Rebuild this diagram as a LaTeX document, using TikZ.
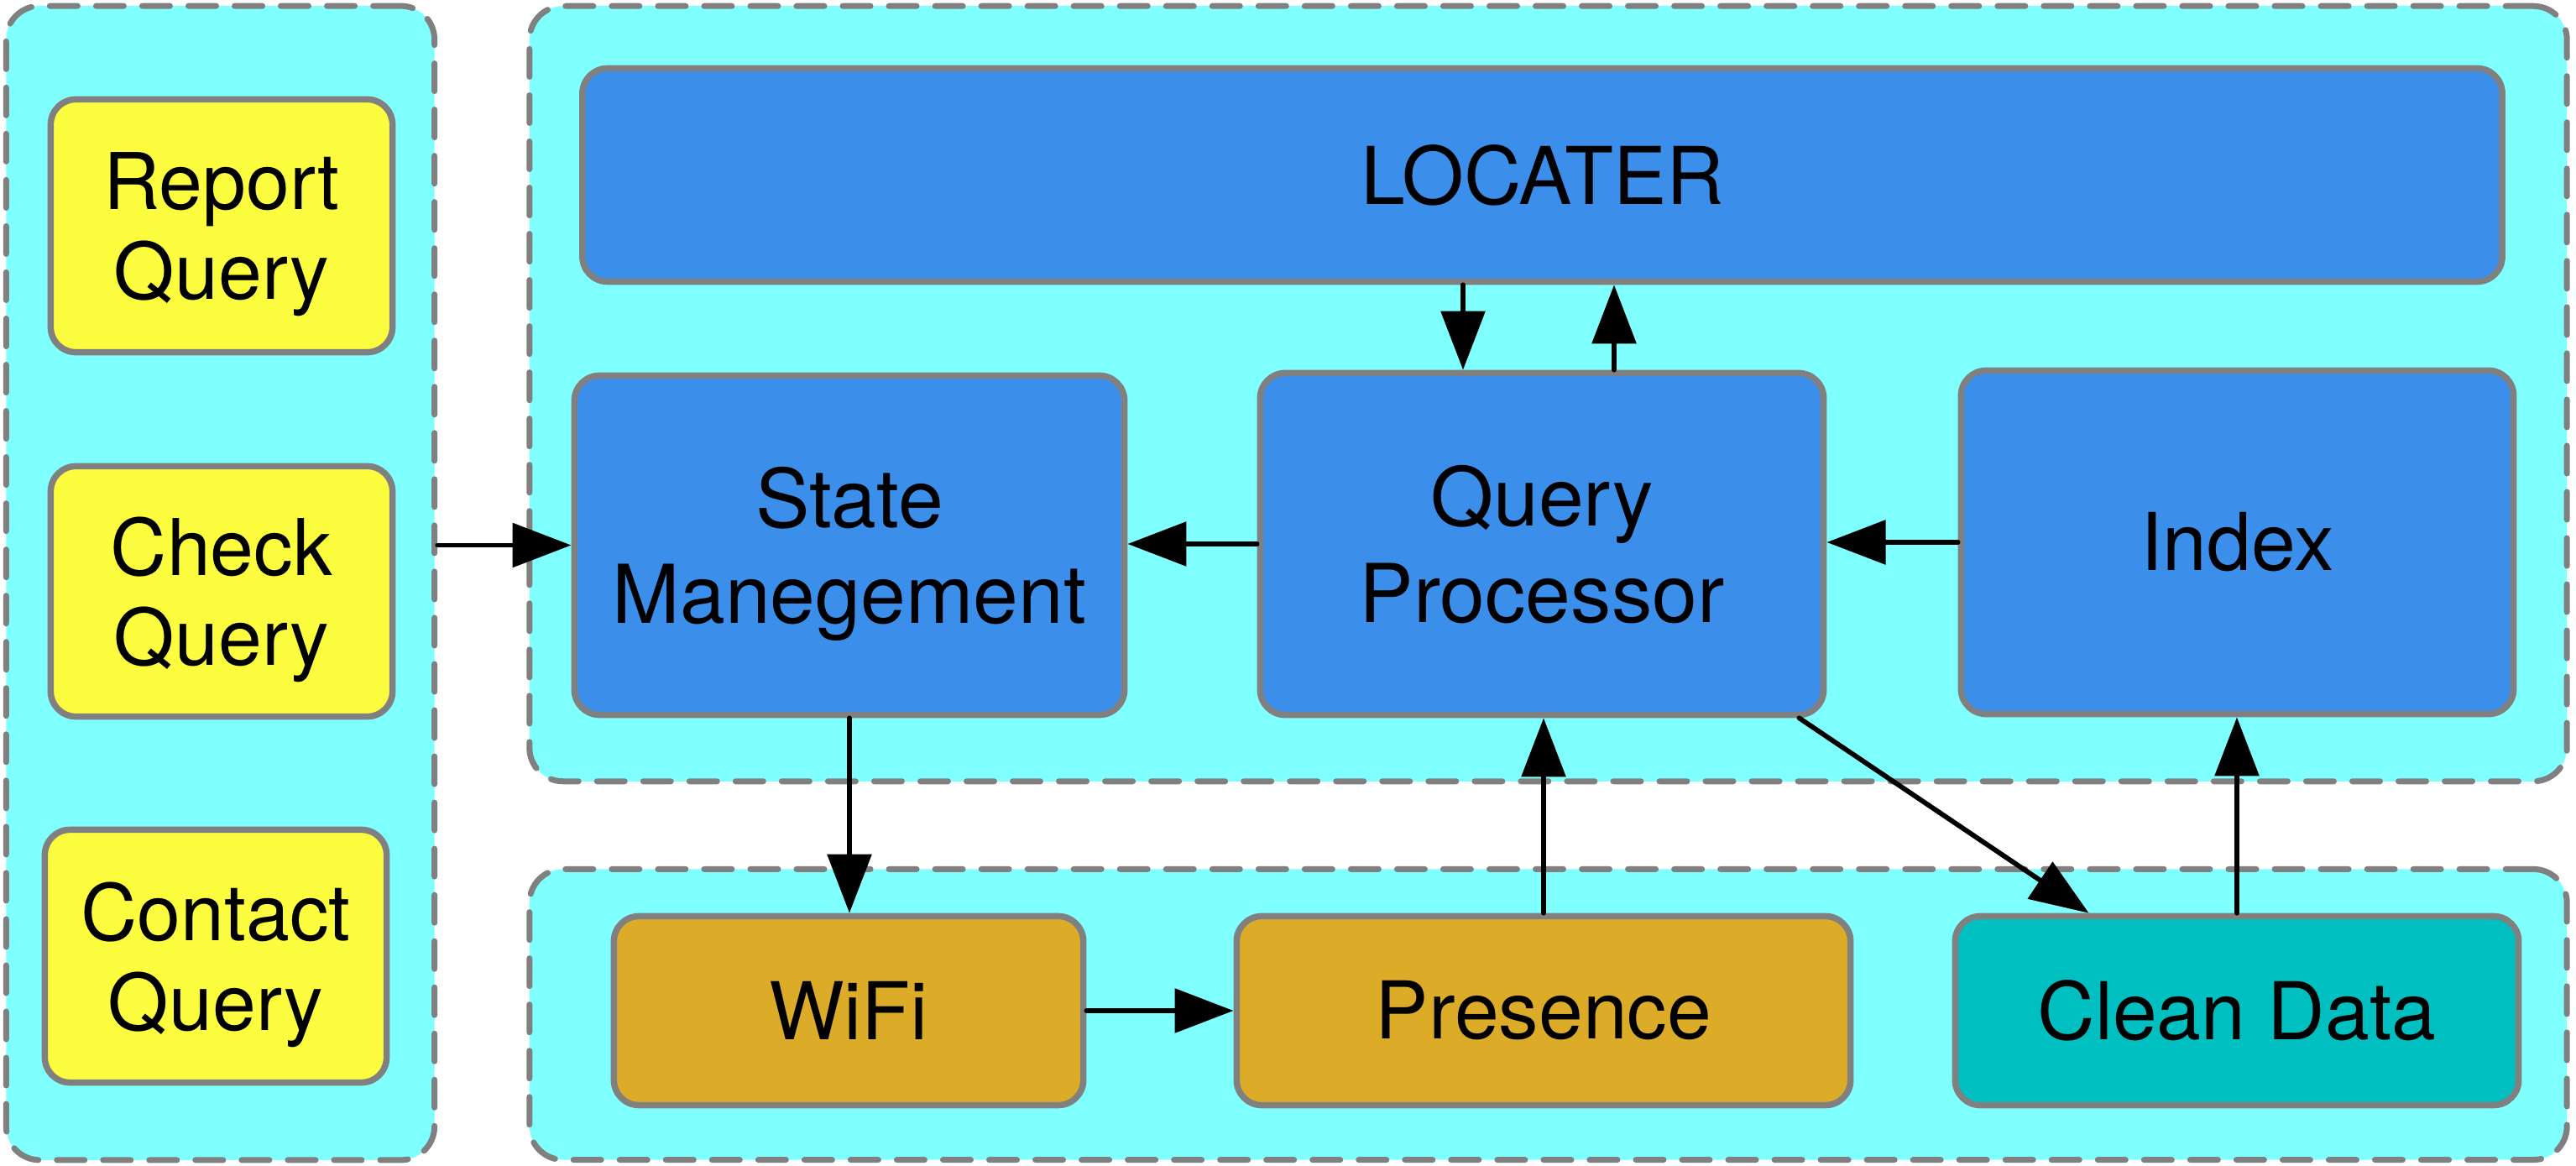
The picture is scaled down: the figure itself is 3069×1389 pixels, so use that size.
\documentclass[tikz,border=0pt]{standalone}
\usepackage{fontspec}
\setmainfont{TeX Gyre Heros}
\usetikzlibrary{arrows.meta,calc}
\definecolor{cont}{HTML}{80FFFF}
\definecolor{bluebox}{HTML}{3B8EEA}
\definecolor{yel}{HTML}{FDFD3F}
\definecolor{goldbox}{HTML}{DCAB27}
\definecolor{tealbox}{HTML}{00BFC0}
\definecolor{edgegray}{HTML}{808080}
\begin{document}
\begin{tikzpicture}[x=0.01cm,y=-0.01cm,
 container/.style={draw=edgegray, fill=cont, line width=0.07cm, dash pattern=on 0.33cm off 0.22cm, line cap=round, rounded corners=0.4cm, inner sep=0pt},
 box/.style={draw=edgegray, line width=0.075cm, rounded corners=0.3cm, inner sep=0pt, align=center, font=\fontsize{27}{31}\selectfont},
 qbox/.style={box, fill=yel, text depth=0pt, font=\fontsize{26.5}{30.5}\selectfont},
 bbox/.style={box, fill=bluebox},
 bbox2/.style={bbox, text depth=0pt, font=\fontsize{27.5}{32.5}\selectfont},
 arr/.style={-{Triangle[length=0.7cm,width=0.52cm]}, line width=0.058cm, line cap=round},
]
\useasboundingbox (0,0) rectangle (3069,1389);
% containers
\node[container, minimum width=5.10cm, minimum height=13.74cm] (leftc) at (262.5,694.5) {};
\node[container, minimum width=24.26cm, minimum height=9.23cm] (topc) at (1844.5,469) {};
\node[container, minimum width=24.26cm, minimum height=3.46cm] (botc) at (1844.5,1208.5) {};
% left boxes
\node[qbox, minimum width=4.07cm, minimum height=3.01cm] (rq) at (264,269) {Report\\Query};
\node[qbox, minimum width=4.07cm, minimum height=2.98cm] (cq) at (264,704.5) {Check\\Query};
\node[qbox, minimum width=4.07cm, minimum height=3.01cm] (ctq) at (257,1139) {Contact\\Query};
% top boxes
\node[bbox, minimum width=22.86cm, minimum height=2.54cm] (loc) at (1837.5,208.5) {LOCATER};
\node[bbox2, minimum width=6.55cm, minimum height=4.04cm] (state) at (1012,649.5) {State\\Manegement};
\node[bbox2, minimum width=6.71cm, minimum height=4.07cm] (qp) at (1837,648) {Query\\Processor};
\node[bbox, minimum width=6.58cm, minimum height=4.09cm] (index) at (2665.5,646) {Index};
% bottom boxes
\node[box, fill=goldbox, minimum width=5.59cm, minimum height=2.25cm] (wifi) at (1011,1204) {WiFi};
\node[box, fill=goldbox, minimum width=7.31cm, minimum height=2.25cm] (pres) at (1839,1204) {Presence};
\node[box, fill=tealbox, minimum width=6.71cm, minimum height=2.25cm] (clean) at (2665,1204) {Clean Data};
% helper coordinates
\coordinate (xd) at (1743,0);
\coordinate (xu) at (1923,0);
\coordinate (qpout) at ($(qp.south east)+(-33,0)$);
\coordinate (cleanin) at ($(clean.north west)+(163,0)$);
% connectors
\draw[arr] (state.west -| leftc.east) -- (state.west);
\draw[arr] (loc.south -| xd) -- (qp.north -| xd);
\draw[arr] (qp.north -| xu) -- (loc.south -| xu);
\draw[arr] (qp.west) -- (qp.west -| state.east);
\draw[arr] (index.west) -- (index.west -| qp.east);
\draw[arr] (state.south) -- (state.south |- wifi.north);
\draw[arr] (wifi.east) -- (pres.west);
\draw[arr] (pres.north) -- (pres.north |- qp.south);
\draw[arr] (qpout) -- (cleanin);
\draw[arr] (clean.north) -- (clean.north |- index.south);
\end{tikzpicture}
\end{document}
